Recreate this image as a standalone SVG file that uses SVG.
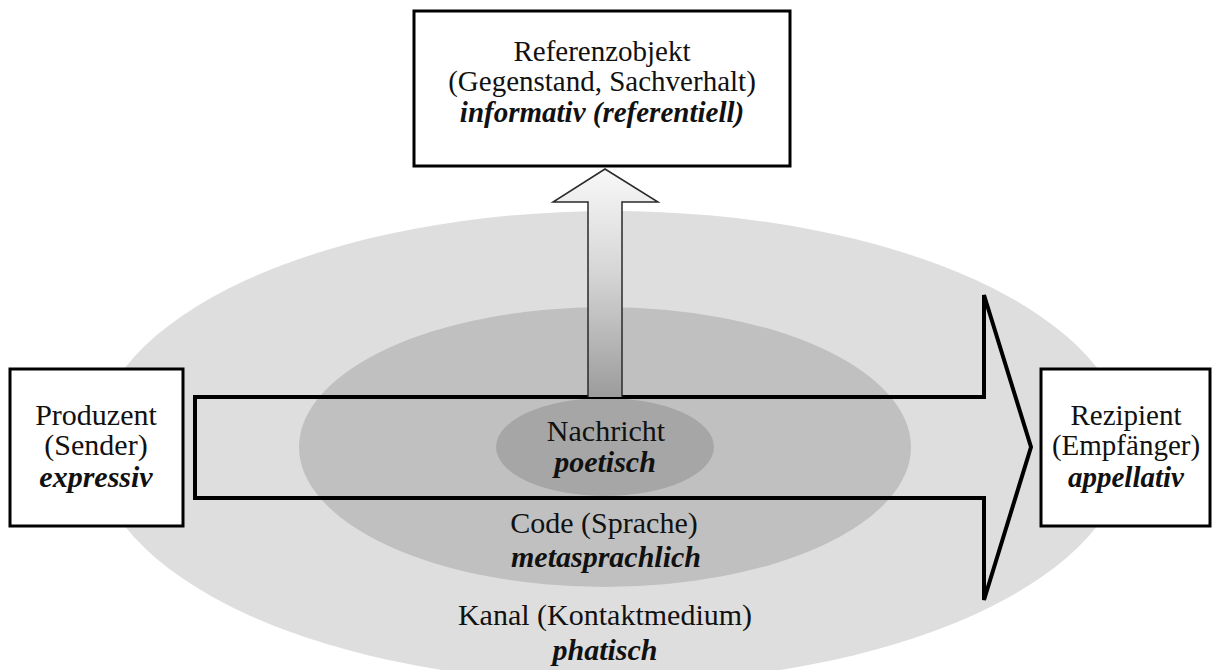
<svg xmlns="http://www.w3.org/2000/svg" width="1212" height="670" viewBox="0 0 1212 670">
  <style>
    .t { font-family: "Liberation Serif", "Times New Roman", serif; font-size: 30px; fill: #111; text-anchor: middle; }
    .s { font-size: 29px; }
    .i { font-style: italic; font-weight: bold; }
    .box { fill: #ffffff; stroke: #000; stroke-width: 3; }
  </style>
  <defs>
    <linearGradient id="upGrad" x1="0" y1="0" x2="0" y2="1">
      <stop offset="0" stop-color="#f8f8f8"/>
      <stop offset="0.45" stop-color="#d6d6d6"/>
      <stop offset="1" stop-color="#9c9c9c"/>
    </linearGradient>
  </defs>
  <rect width="1212" height="670" fill="#ffffff"/>

  <g id="kanal">
    <ellipse cx="611" cy="447" rx="516" ry="236" fill="#dedede"/>
    <text class="t" x="605" y="625">Kanal (Kontaktmedium)</text>
    <text class="t i" x="605" y="660">phatisch</text>
  </g>
  <g id="code">
    <ellipse cx="605" cy="447" rx="306" ry="140" fill="#c0c0c0"/>
    <text class="t" x="604" y="533">Code (Sprache)</text>
    <text class="t i" x="606" y="567">metasprachlich</text>
  </g>
  <g id="nachricht">
    <ellipse cx="605" cy="447" rx="109" ry="49" fill="#a6a6a6"/>
    <text class="t" x="606" y="441">Nachricht</text>
    <text class="t i" x="605" y="472">poetisch</text>
  </g>

  <g id="connectors">
    <path d="M195,397 H984 V295 L1031,447 L984,600 V498 H195 Z" fill="none" stroke="#000" stroke-width="4" stroke-linejoin="miter" stroke-miterlimit="3"/>
    <path d="M588,397 V202 H553 L605,169 L658,202 H622 V397" fill="url(#upGrad)" stroke="#2a2a2a" stroke-width="1.5"/>
  </g>

  <g id="referenzobjekt">
    <rect class="box" x="414" y="11" width="376" height="155"/>
    <text class="t s" x="602" y="61">Referenzobjekt</text>
    <text class="t s" x="602" y="91">(Gegenstand, Sachverhalt)</text>
    <text class="t s i" x="602" y="122">informativ (referentiell)</text>
  </g>
  <g id="produzent">
    <rect class="box" x="10" y="369" width="173" height="157"/>
    <text class="t" x="96" y="425">Produzent</text>
    <text class="t" x="96" y="455">(Sender)</text>
    <text class="t i" x="96" y="487">expressiv</text>
  </g>
  <g id="rezipient">
    <rect class="box" x="1041" y="369" width="169" height="157"/>
    <text class="t s" x="1126" y="425">Rezipient</text>
    <text class="t s" x="1126" y="455">(Empfänger)</text>
    <text class="t s i" x="1126" y="487">appellativ</text>
  </g>
</svg>
